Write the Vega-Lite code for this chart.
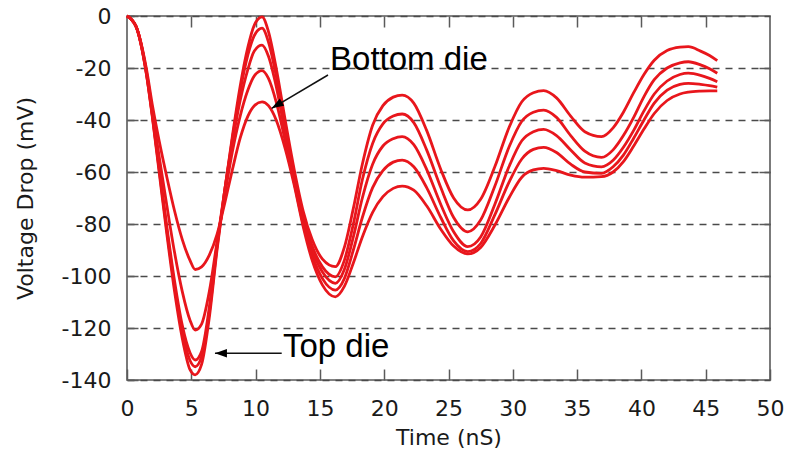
{
  "$schema": "https://vega.github.io/schema/vega-lite/v6.json",
  "autosize": {"type": "none"},
  "padding": {"left": 127, "top": 16, "right": 19, "bottom": 79},
  "width": 643,
  "height": 364,
  "background": "white",
  "config": {
    "view": {"stroke": "#5a5a5a", "strokeWidth": 1.6},
    "axis": {
      "labelFont": "DejaVu Sans",
      "titleFont": "DejaVu Sans",
      "labelFontSize": 22,
      "titleFontSize": 22,
      "titleFontWeight": "normal",
      "labelColor": "#1a1a1a",
      "titleColor": "#1a1a1a",
      "tickColor": "#5a5a5a",
      "tickWidth": 1.5,
      "domain": false
    }
  },
  "datasets": {
    "drop": [
      {"c":1,"t":0,"v":0},{"c":1,"t":0.7,"v":-4},{"c":1,"t":1.5,"v":-22},{"c":1,"t":2.0,"v":-40},{"c":1,"t":2.5,"v":-60},{"c":1,"t":3.1,"v":-84},{"c":1,"t":3.7,"v":-106},{"c":1,"t":4.3,"v":-124},{"c":1,"t":4.9,"v":-136},{"c":1,"t":5.3,"v":-138},
      {"c":1,"t":5.8,"v":-134},{"c":1,"t":6.4,"v":-116},{"c":1,"t":7.0,"v":-90},{"c":1,"t":7.6,"v":-67},{"c":1,"t":8.2,"v":-46},{"c":1,"t":8.8,"v":-27},{"c":1,"t":9.4,"v":-12},{"c":1,"t":9.9,"v":-3.5},{"c":1,"t":10.5,"v":-0.3},
      {"c":1,"t":11.0,"v":-6},{"c":1,"t":11.6,"v":-20},{"c":1,"t":12.3,"v":-40},{"c":1,"t":13.0,"v":-59},{"c":1,"t":13.7,"v":-75},{"c":1,"t":14.4,"v":-86},{"c":1,"t":15.2,"v":-93.5},{"c":1,"t":16.2,"v":-96.4},
      {"c":1,"t":16.9,"v":-89},{"c":1,"t":17.6,"v":-74},{"c":1,"t":18.3,"v":-57},{"c":1,"t":19.1,"v":-42},{"c":1,"t":19.9,"v":-34.5},{"c":1,"t":20.7,"v":-31.2},{"c":1,"t":21.4,"v":-30.4},
      {"c":1,"t":22.3,"v":-33.5},{"c":1,"t":23.3,"v":-44},{"c":1,"t":24.4,"v":-59},{"c":1,"t":25.4,"v":-70},{"c":1,"t":26.5,"v":-74.6},
      {"c":1,"t":27.5,"v":-70.5},{"c":1,"t":28.6,"v":-58},{"c":1,"t":29.7,"v":-43},{"c":1,"t":30.7,"v":-33},{"c":1,"t":31.6,"v":-29.5},{"c":1,"t":32.4,"v":-28.7},
      {"c":1,"t":33.4,"v":-31.5},{"c":1,"t":34.5,"v":-38.5},{"c":1,"t":35.6,"v":-44.5},{"c":1,"t":36.9,"v":-46.4},
      {"c":1,"t":37.8,"v":-43},{"c":1,"t":38.6,"v":-37},{"c":1,"t":39.4,"v":-29.5},{"c":1,"t":40.2,"v":-22.5},{"c":1,"t":41.0,"v":-17},{"c":1,"t":42.0,"v":-13.3},{"c":1,"t":43.0,"v":-12},{"c":1,"t":43.65,"v":-11.8},{"c":1,"t":44.6,"v":-13.5},{"c":1,"t":45.3,"v":-15.2},{"c":1,"t":45.9,"v":-17.2},

      {"c":2,"t":0,"v":0},{"c":2,"t":0.7,"v":-4},{"c":2,"t":1.5,"v":-22},{"c":2,"t":2.0,"v":-39.5},{"c":2,"t":2.5,"v":-59},{"c":2,"t":3.1,"v":-82.5},{"c":2,"t":3.7,"v":-104},{"c":2,"t":4.3,"v":-121.5},{"c":2,"t":4.9,"v":-132.5},{"c":2,"t":5.3,"v":-134.9},
      {"c":2,"t":5.8,"v":-131},{"c":2,"t":6.4,"v":-114},{"c":2,"t":7.0,"v":-89},{"c":2,"t":7.6,"v":-67},{"c":2,"t":8.2,"v":-47},{"c":2,"t":8.8,"v":-29},{"c":2,"t":9.4,"v":-15},{"c":2,"t":9.9,"v":-7.5},{"c":2,"t":10.5,"v":-4.7},
      {"c":2,"t":11.0,"v":-10},{"c":2,"t":11.6,"v":-23},{"c":2,"t":12.3,"v":-42},{"c":2,"t":13.0,"v":-61},{"c":2,"t":13.7,"v":-77},{"c":2,"t":14.4,"v":-88.5},{"c":2,"t":15.2,"v":-96.5},{"c":2,"t":16.2,"v":-100.3},
      {"c":2,"t":16.9,"v":-94},{"c":2,"t":17.6,"v":-80},{"c":2,"t":18.3,"v":-63},{"c":2,"t":19.1,"v":-49},{"c":2,"t":19.9,"v":-41.5},{"c":2,"t":20.7,"v":-38.5},{"c":2,"t":21.4,"v":-37.7},
      {"c":2,"t":22.3,"v":-41},{"c":2,"t":23.3,"v":-51.5},{"c":2,"t":24.4,"v":-66},{"c":2,"t":25.4,"v":-77.5},{"c":2,"t":26.5,"v":-83},
      {"c":2,"t":27.5,"v":-78.5},{"c":2,"t":28.6,"v":-65.5},{"c":2,"t":29.7,"v":-50.5},{"c":2,"t":30.7,"v":-40.5},{"c":2,"t":31.6,"v":-37},{"c":2,"t":32.4,"v":-36.2},
      {"c":2,"t":33.4,"v":-39},{"c":2,"t":34.5,"v":-46},{"c":2,"t":35.6,"v":-52},{"c":2,"t":36.9,"v":-54.4},
      {"c":2,"t":37.8,"v":-51.5},{"c":2,"t":38.6,"v":-46},{"c":2,"t":39.4,"v":-39},{"c":2,"t":40.2,"v":-31},{"c":2,"t":41.0,"v":-24.5},{"c":2,"t":42.0,"v":-20},{"c":2,"t":43.0,"v":-18},{"c":2,"t":43.65,"v":-17.6},{"c":2,"t":44.6,"v":-18.8},{"c":2,"t":45.3,"v":-20.3},{"c":2,"t":45.9,"v":-22},

      {"c":3,"t":0,"v":0},{"c":3,"t":0.7,"v":-4},{"c":3,"t":1.5,"v":-21.5},{"c":3,"t":2.0,"v":-39},{"c":3,"t":2.5,"v":-58},{"c":3,"t":3.1,"v":-81},{"c":3,"t":3.7,"v":-102},{"c":3,"t":4.3,"v":-119},{"c":3,"t":4.9,"v":-129.5},{"c":3,"t":5.3,"v":-132.3},
      {"c":3,"t":5.8,"v":-129},{"c":3,"t":6.4,"v":-112},{"c":3,"t":7.0,"v":-88},{"c":3,"t":7.6,"v":-67},{"c":3,"t":8.2,"v":-48.5},{"c":3,"t":8.8,"v":-32.5},{"c":3,"t":9.4,"v":-20.5},{"c":3,"t":9.9,"v":-13.5},{"c":3,"t":10.5,"v":-11.2},
      {"c":3,"t":11.0,"v":-15.5},{"c":3,"t":11.6,"v":-27},{"c":3,"t":12.3,"v":-45},{"c":3,"t":13.0,"v":-63},{"c":3,"t":13.7,"v":-78.5},{"c":3,"t":14.4,"v":-90},{"c":3,"t":15.2,"v":-98.5},{"c":3,"t":16.2,"v":-102.8},
      {"c":3,"t":16.9,"v":-97.5},{"c":3,"t":17.6,"v":-85},{"c":3,"t":18.3,"v":-70},{"c":3,"t":19.1,"v":-57},{"c":3,"t":19.9,"v":-50},{"c":3,"t":20.7,"v":-47.2},{"c":3,"t":21.4,"v":-46.4},
      {"c":3,"t":22.3,"v":-49.5},{"c":3,"t":23.3,"v":-59},{"c":3,"t":24.4,"v":-72.5},{"c":3,"t":25.4,"v":-83},{"c":3,"t":26.5,"v":-88.7},
      {"c":3,"t":27.5,"v":-85},{"c":3,"t":28.6,"v":-72.5},{"c":3,"t":29.7,"v":-58},{"c":3,"t":30.7,"v":-48},{"c":3,"t":31.6,"v":-44.5},{"c":3,"t":32.4,"v":-43.6},
      {"c":3,"t":33.4,"v":-46},{"c":3,"t":34.5,"v":-51.5},{"c":3,"t":35.6,"v":-56.5},{"c":3,"t":36.9,"v":-58},
      {"c":3,"t":37.8,"v":-55.5},{"c":3,"t":38.6,"v":-50.5},{"c":3,"t":39.4,"v":-44},{"c":3,"t":40.2,"v":-36.5},{"c":3,"t":41.0,"v":-30},{"c":3,"t":42.0,"v":-25},{"c":3,"t":43.0,"v":-22.5},{"c":3,"t":43.65,"v":-22},{"c":3,"t":44.6,"v":-22.8},{"c":3,"t":45.3,"v":-24},{"c":3,"t":45.9,"v":-25.3},

      {"c":4,"t":0,"v":0},{"c":4,"t":0.7,"v":-4},{"c":4,"t":1.5,"v":-21},{"c":4,"t":2.0,"v":-37.5},{"c":4,"t":2.5,"v":-54},{"c":4,"t":3.1,"v":-73},{"c":4,"t":3.7,"v":-91},{"c":4,"t":4.3,"v":-106},{"c":4,"t":4.9,"v":-117},{"c":4,"t":5.3,"v":-120.8},
      {"c":4,"t":5.8,"v":-118.5},{"c":4,"t":6.4,"v":-106},{"c":4,"t":7.0,"v":-87},{"c":4,"t":7.6,"v":-69},{"c":4,"t":8.2,"v":-52},{"c":4,"t":8.8,"v":-38.5},{"c":4,"t":9.4,"v":-28.5},{"c":4,"t":9.9,"v":-23},{"c":4,"t":10.5,"v":-21},
      {"c":4,"t":11.0,"v":-24},{"c":4,"t":11.6,"v":-33},{"c":4,"t":12.3,"v":-48},{"c":4,"t":13.0,"v":-64},{"c":4,"t":13.7,"v":-80},{"c":4,"t":14.4,"v":-92},{"c":4,"t":15.2,"v":-101},{"c":4,"t":16.2,"v":-105.4},
      {"c":4,"t":16.9,"v":-101},{"c":4,"t":17.6,"v":-90},{"c":4,"t":18.3,"v":-77.5},{"c":4,"t":19.1,"v":-66},{"c":4,"t":19.9,"v":-59.5},{"c":4,"t":20.7,"v":-56.2},{"c":4,"t":21.4,"v":-55.4},
      {"c":4,"t":22.3,"v":-58},{"c":4,"t":23.3,"v":-66},{"c":4,"t":24.4,"v":-77.5},{"c":4,"t":25.4,"v":-86.5},{"c":4,"t":26.5,"v":-90.6},
      {"c":4,"t":27.5,"v":-87.5},{"c":4,"t":28.6,"v":-76.5},{"c":4,"t":29.7,"v":-64},{"c":4,"t":30.7,"v":-55},{"c":4,"t":31.6,"v":-51.3},{"c":4,"t":32.4,"v":-50.5},
      {"c":4,"t":33.4,"v":-52.5},{"c":4,"t":34.5,"v":-57},{"c":4,"t":35.6,"v":-60},{"c":4,"t":36.9,"v":-60.5},
      {"c":4,"t":37.8,"v":-58},{"c":4,"t":38.6,"v":-53.5},{"c":4,"t":39.4,"v":-47},{"c":4,"t":40.2,"v":-40},{"c":4,"t":41.0,"v":-33.5},{"c":4,"t":42.0,"v":-28.5},{"c":4,"t":43.0,"v":-26.3},{"c":4,"t":43.65,"v":-25.9},{"c":4,"t":44.6,"v":-26.3},{"c":4,"t":45.3,"v":-26.8},{"c":4,"t":45.9,"v":-27.4},

      {"c":5,"t":0,"v":0},{"c":5,"t":0.7,"v":-4},{"c":5,"t":1.5,"v":-20},{"c":5,"t":2.0,"v":-35},{"c":5,"t":2.5,"v":-48},{"c":5,"t":3.1,"v":-62},{"c":5,"t":3.7,"v":-75},{"c":5,"t":4.3,"v":-86},{"c":5,"t":4.9,"v":-94},{"c":5,"t":5.3,"v":-97.5},
      {"c":5,"t":5.8,"v":-96.5},{"c":5,"t":6.4,"v":-92},{"c":5,"t":7.0,"v":-84},{"c":5,"t":7.6,"v":-72},{"c":5,"t":8.2,"v":-59},{"c":5,"t":8.8,"v":-47},{"c":5,"t":9.4,"v":-38.5},{"c":5,"t":9.9,"v":-34.5},{"c":5,"t":10.5,"v":-33},
      {"c":5,"t":11.0,"v":-34.5},{"c":5,"t":11.6,"v":-40},{"c":5,"t":12.3,"v":-51},{"c":5,"t":13.0,"v":-65},{"c":5,"t":13.7,"v":-81},{"c":5,"t":14.4,"v":-94},{"c":5,"t":15.2,"v":-103.5},{"c":5,"t":16.2,"v":-108},
      {"c":5,"t":16.9,"v":-104},{"c":5,"t":17.6,"v":-95},{"c":5,"t":18.3,"v":-85},{"c":5,"t":19.1,"v":-75.5},{"c":5,"t":19.9,"v":-69.5},{"c":5,"t":20.7,"v":-66.3},{"c":5,"t":21.4,"v":-65.4},
      {"c":5,"t":22.3,"v":-67},{"c":5,"t":23.3,"v":-73},{"c":5,"t":24.4,"v":-82},{"c":5,"t":25.4,"v":-88.5},{"c":5,"t":26.5,"v":-91.5},
      {"c":5,"t":27.5,"v":-89},{"c":5,"t":28.6,"v":-80.5},{"c":5,"t":29.7,"v":-70},{"c":5,"t":30.7,"v":-62},{"c":5,"t":31.6,"v":-59.2},{"c":5,"t":32.4,"v":-58.6},
      {"c":5,"t":33.4,"v":-59.5},{"c":5,"t":34.5,"v":-61.2},{"c":5,"t":35.6,"v":-62},{"c":5,"t":36.9,"v":-61.8},
      {"c":5,"t":37.8,"v":-60},{"c":5,"t":38.6,"v":-56},{"c":5,"t":39.4,"v":-50},{"c":5,"t":40.2,"v":-43.5},{"c":5,"t":41.0,"v":-37.5},{"c":5,"t":42.0,"v":-32.5},{"c":5,"t":43.0,"v":-30},{"c":5,"t":43.65,"v":-29.3},{"c":5,"t":44.6,"v":-28.9},{"c":5,"t":45.3,"v":-28.8},{"c":5,"t":45.9,"v":-28.8}
    ],
    "labels": [
      {"label": "Bottom die", "t": 15.79, "v": -20.8},
      {"label": "Top die", "t": 12.13, "v": -131.0}
    ],
    "arrows": [
      {"label": "Bottom die", "t": 15.63, "v": -22.7, "t2": 11.25, "v2": -35.5},
      {"label": "Top die", "t": 12.03, "v": -129.7, "t2": 6.84, "v2": -129.7}
    ]
  },
  "layer": [
    {
      "data": {"name": "drop"},
      "mark": {"type": "line", "interpolate": "monotone", "color": "#e8161c", "strokeWidth": 2.8},
      "encoding": {
        "x": {
          "field": "t", "type": "quantitative",
          "scale": {"domain": [0, 50], "nice": false, "zero": false},
          "axis": {
            "orient": "bottom", "title": "Time (nS)", "values": [0, 5, 10, 15, 20, 25, 30, 35, 40, 45, 50],
            "tickSize": -11, "labelPadding": 29, "titlePadding": 8, "grid": false, "labelFlush": false
          }
        },
        "y": {
          "field": "v", "type": "quantitative",
          "scale": {"domain": [-140, 0], "nice": false, "zero": false},
          "axis": {
            "orient": "left", "title": "Voltage Drop (mV)", "values": [0, -20, -40, -60, -80, -100, -120, -140],
            "labelExpr": "replace(datum.label, '\u2212', '-')",
            "tickSize": -11, "labelPadding": 27, "titlePadding": 24,
            "grid": true, "gridDash": [7, 6], "gridColor": "#4a4a4a", "gridWidth": 1.3
          }
        },
        "detail": {"field": "c", "type": "nominal"}
      }
    },
    {
      "data": {"name": "drop"},
      "mark": {"type": "line", "strokeOpacity": 0},
      "encoding": {
        "x": {
          "field": "t", "type": "quantitative",
          "axis": {"orient": "top", "labels": false, "title": null, "tickSize": -11, "grid": false, "values": [5, 10, 15, 20, 25, 30, 35, 40, 45]}
        },
        "y": {
          "field": "v", "type": "quantitative",
          "axis": {"orient": "right", "labels": false, "title": null, "tickSize": -11, "grid": false, "values": [-20, -40, -60, -80, -100, -120]}
        },
        "detail": {"field": "c", "type": "nominal"}
      }
    },
    {
      "data": {"name": "labels"},
      "mark": {"type": "text", "font": "Liberation Sans", "fontSize": 33, "align": "left", "baseline": "alphabetic", "color": "#000"},
      "encoding": {
        "x": {"field": "t", "type": "quantitative", "axis": null},
        "y": {"field": "v", "type": "quantitative", "axis": null},
        "text": {"field": "label"}
      }
    },
    {
      "data": {"name": "arrows"},
      "mark": {"type": "rule", "color": "#111", "strokeWidth": 1.5},
      "encoding": {
        "x": {"field": "t", "type": "quantitative", "axis": null},
        "y": {"field": "v", "type": "quantitative", "axis": null},
        "x2": {"field": "t2"},
        "y2": {"field": "v2"}
      }
    },
    {
      "data": {"name": "arrows"},
      "transform": [{"filter": "datum.label === 'Bottom die'"}],
      "mark": {"type": "point", "shape": "M0,0L2,-0.7L2,0.7Z", "filled": true, "color": "#000", "opacity": 1, "size": 144, "angle": 329},
      "encoding": {
        "x": {"field": "t2", "type": "quantitative", "axis": null},
        "y": {"field": "v2", "type": "quantitative", "axis": null}
      }
    },
    {
      "data": {"name": "arrows"},
      "transform": [{"filter": "datum.label === 'Top die'"}],
      "mark": {"type": "point", "shape": "M0,0L2,-0.7L2,0.7Z", "filled": true, "color": "#000", "opacity": 1, "size": 144, "angle": 0},
      "encoding": {
        "x": {"field": "t2", "type": "quantitative", "axis": null},
        "y": {"field": "v2", "type": "quantitative", "axis": null}
      }
    }
  ],
  "resolve": {"axis": {"x": "independent", "y": "independent"}}
}
